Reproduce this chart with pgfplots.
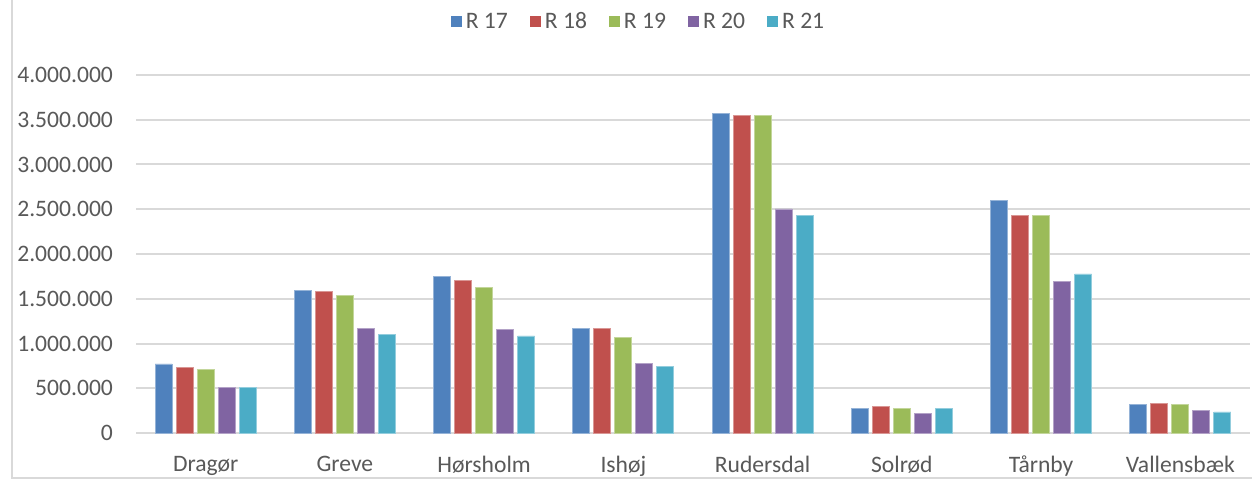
\documentclass[border=0pt]{standalone}
\usepackage{fontspec}
\setmainfont{Carlito}
\usepackage{pgfplots}
\usepackage{pgfplotstable}
\pgfplotsset{compat=1.18}

\definecolor{cA}{HTML}{4F81BD}
\definecolor{cB}{HTML}{C0504D}
\definecolor{cC}{HTML}{9BBB59}
\definecolor{cD}{HTML}{8064A2}
\definecolor{cE}{HTML}{4BACC6}
\definecolor{txt}{HTML}{595959}
\definecolor{grid}{HTML}{D9D9D9}

% values
\pgfplotstableread{
x  r17     r18     r19     r20     r21
0  771000  734000  715000  506000  506000
1  1595000 1584000 1539000 1170000 1103000
2  1754000 1706000 1624000 1159000 1084000
3  1170000 1170000 1070000 779000  745000
4  3572000 3550000 3550000 2503000 2428000
5  279000  294000  279000  220000  279000
6  2596000 2432000 2432000 1695000 1777000
7  320000  335000  320000  254000  235000
}\datatable

\begin{document}
\begin{tikzpicture}
\begin{axis}[
    at={(68pt,24.5pt)}, anchor=south west,
    scale only axis,
    width=557pt, height=179pt,
    ybar=2pt, bar width=8.5pt,
    xmin=-0.5, xmax=7.5,
    ymin=0, ymax=4000000,
    xtick=data,
    xticklabels={Dragør,Greve,Hørsholm,Ishøj,Rudersdal,Solrød,Tårnby,Vallensbæk},
    ytick={0,500000,...,4000000},
    scaled y ticks=false,
    /pgf/number format/fixed,
    /pgf/number format/precision=0,
    /pgf/number format/1000 sep={.},
    /pgf/number format/assume math mode=true,
    tick label style={font=\fontsize{11.8}{13}\selectfont, text=txt},
    xticklabel style={yshift=-8pt},
    yticklabel style={xshift=-8pt},
    major tick length=0pt,
    axis line style={draw=none},
    ymajorgrids=true,
    grid style={draw=grid, line width=1pt},
    legend style={at={(0.452,1)}, anchor=center, yshift=26.5pt, draw=none,
        font=\fontsize{11.8}{13}\selectfont, text=txt,
        legend columns=-1,
        /tikz/every even column/.append style={column sep=9pt}},
    legend image code/.code={\path[#1, draw=none] (0pt,-2.75pt) rectangle (5.5pt,2.75pt);},
]
\addplot[fill=cA, draw=cA!60!white, line width=0.4pt] table[x=x, y=r17] {\datatable};
\addplot[fill=cB, draw=cB!60!white, line width=0.4pt] table[x=x, y=r18] {\datatable};
\addplot[fill=cC, draw=cC!60!white, line width=0.4pt] table[x=x, y=r19] {\datatable};
\addplot[fill=cD, draw=cD!60!white, line width=0.4pt] table[x=x, y=r20] {\datatable};
\addplot[fill=cE, draw=cE!60!white, line width=0.4pt] table[x=x, y=r21] {\datatable};
\legend{R 17, R 18, R 19, R 20, R 21}
\end{axis}
\draw[grid, line width=0.6pt] (6pt,241pt) -- (6pt,2pt) -- (626pt,2pt);
\pgfresetboundingbox
\useasboundingbox (0,0) rectangle (626pt,241pt);
\end{tikzpicture}
\end{document}
